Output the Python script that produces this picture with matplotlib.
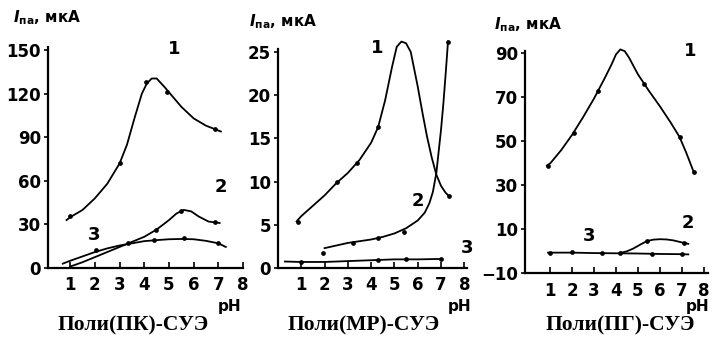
import matplotlib
matplotlib.use("Agg")
import matplotlib.pyplot as plt

plt.rcParams['font.family'] = ['DejaVu Sans']
plt.rcParams['mathtext.fontset'] = 'custom'
plt.rcParams['mathtext.it'] = 'DejaVu Sans:italic:bold'
plt.rcParams['mathtext.rm'] = 'DejaVu Sans:bold'

# ---- Поли(ПК)-СУЭ ----
pk1_x = [0.85, 1.0, 1.5, 2.0, 2.5, 3.0, 3.3, 3.6, 3.9, 4.1, 4.3, 4.5, 4.8, 5.0, 5.5, 6.0, 6.5, 7.1]
pk1_y = [33, 35, 40, 48, 58, 72, 85, 103, 120, 127, 130.5, 130.5, 125, 121, 111, 103, 98, 94]
pk1_mx = [1.0, 3.0, 4.05, 4.9, 6.85]
pk1_my = [36, 72, 128, 121, 96]

pk2_x = [1.0, 1.5, 2.0, 2.5, 3.0, 3.5, 4.0, 4.5, 5.0, 5.3, 5.6, 5.9, 6.2, 6.6, 7.05]
pk2_y = [1, 4, 7.5, 11, 14.5, 18, 21.5, 26.5, 33, 37.5, 40, 39, 35.5, 32, 31]
pk2_mx = [3.35, 4.47, 5.5, 6.85]
pk2_my = [17, 26, 39, 32]

pk3_x = [0.7, 1.0, 1.5, 2.0, 2.5, 3.0, 3.5, 4.0, 4.5, 5.0, 5.5, 6.0, 6.5, 7.0, 7.3]
pk3_y = [3, 5, 8, 11, 13.5, 15.5, 17, 18.5, 19.2, 19.8, 20, 19.8, 18.7, 17, 14.5]
pk3_mx = [2.05, 4.4, 5.6, 7.0]
pk3_my = [12.5, 19, 20.5, 17]

# ---- Поли(МР)-СУЭ ----
mr1_x = [0.8, 1.0, 1.5, 2.0, 2.5, 3.0, 3.5, 4.0, 4.3, 4.6, 4.9, 5.1, 5.3, 5.5, 5.7, 5.85, 6.0, 6.2, 6.4, 6.6, 6.8, 7.0, 7.2, 7.35]
mr1_y = [5.4, 6.0, 7.2, 8.4, 9.8, 11.0, 12.5, 14.5, 16.3, 19.4, 23.3, 25.6, 26.2, 26.0, 25.0, 23.0, 21.0, 18.0, 15.2, 12.8, 10.8, 9.5, 8.7, 8.3]
mr1_mx = [0.85, 2.55, 3.4, 4.3, 7.35]
mr1_my = [5.3, 10, 12.1, 16.3, 8.3]

mr2_x = [2.0, 2.5, 3.0, 3.5, 4.0, 4.5, 5.0, 5.5, 6.0, 6.3, 6.5, 6.65, 6.8, 6.9, 7.0, 7.1, 7.2, 7.3]
mr2_y = [2.3, 2.6, 2.9, 3.1, 3.3, 3.6, 4.0, 4.6, 5.5, 6.4, 7.5, 8.8, 11, 13.5, 16, 19, 22.5, 26.2]
mr2_mx = [1.95, 3.2, 4.3, 5.4, 7.3]
mr2_my = [1.7, 2.9, 3.5, 4.2, 26.2]

mr3_x = [0.3, 1, 2, 3, 4, 5, 6, 7.0]
mr3_y = [0.75, 0.7, 0.7, 0.8, 0.9, 1.0, 1.0, 1.05]
mr3_mx = [1.0, 4.3, 5.5, 7.0]
mr3_my = [0.7, 0.95, 1.0, 1.1]

# ---- Поли(ПГ)-СУЭ ----
pg1_x = [0.85, 1.0, 1.5, 2.0, 2.5, 3.0, 3.5, 3.8, 4.0, 4.2, 4.4, 4.6, 5.0, 5.5, 6.0, 6.5, 6.9, 7.2, 7.55]
pg1_y = [39, 40, 46, 53, 61, 69.5, 79, 85, 89.5, 91.8, 91, 88, 80.5, 73, 66, 58.5, 52, 45, 36]
pg1_mx = [0.9, 2.07, 3.2, 5.26, 6.9, 7.55]
pg1_my = [39, 54, 73, 76, 52, 36]

pg2_x = [4.2, 4.5, 4.8, 5.1, 5.4, 5.7, 6.0, 6.3, 6.6, 6.9, 7.1, 7.3]
pg2_y = [-0.7, 0.0, 1.3, 3.0, 4.6, 5.3, 5.5, 5.4, 5.0, 4.3, 3.8, 3.4]
pg2_mx = [5.42, 7.1]
pg2_my = [4.8, 3.7]

pg3_x = [0.9, 2, 3, 4, 5, 6, 7, 7.3]
pg3_y = [-0.6, -0.6, -0.8, -0.9, -1.0, -1.2, -1.3, -1.4]
pg3_mx = [1.0, 2.0, 3.36, 4.2, 5.64, 7.0]
pg3_my = [-0.6, -0.5, -0.8, -0.8, -1.1, -1.1]

panels = [
    dict(pos=[0.0674, 0.2254, 0.274, 0.638], xlim=(0.1, 8.0), ylim=(0, 152),
         yticks=[0, 30, 60, 90, 120, 150],
         curves=[(pk1_x, pk1_y, pk1_mx, pk1_my), (pk2_x, pk2_y, pk2_mx, pk2_my),
                 (pk3_x, pk3_y, pk3_mx, pk3_my)],
         labels=[(5.2, 151, '1'), (7.1, 56, '2'), (1.95, 23, '3')],
         title='Поли(ПК)-СУЭ', tx=133, lab_x=13, lab_y=18, ph_x=230),
    dict(pos=[0.3904, 0.2254, 0.265, 0.632], xlim=(0, 8.1), ylim=(0, 25.3),
         yticks=[0, 5, 10, 15, 20, 25],
         curves=[(mr1_x, mr1_y, mr1_mx, mr1_my), (mr2_x, mr2_y, mr2_mx, mr2_my),
                 (mr3_x, mr3_y, mr3_mx, mr3_my)],
         labels=[(4.25, 25.4, '1'), (6.0, 7.7, '2'), (8.1, 2.3, '3')],
         title='Поли(МР)-СУЭ', tx=364, lab_x=249, lab_y=22, ph_x=460),
    dict(pos=[0.7374, 0.2101, 0.257, 0.642], xlim=(-0.15, 8.2), ylim=(-10, 91),
         yticks=[-10, 10, 30, 50, 70, 90],
         curves=[(pg1_x, pg1_y, pg1_mx, pg1_my), (pg2_x, pg2_y, pg2_mx, pg2_my),
                 (pg3_x, pg3_y, pg3_mx, pg3_my)],
         labels=[(7.4, 91, '1'), (7.3, 13, '2'), (2.75, 7, '3')],
         title='Поли(ПГ)-СУЭ', tx=620, lab_x=494, lab_y=25, ph_x=698),
]

W, H = 712, 346
fig = plt.figure(figsize=(W / 100, H / 100), dpi=100)

for p in panels:
    ax = fig.add_axes(p['pos'])
    for cx, cy, mx, my in p['curves']:
        ax.plot(cx, cy, color='black', lw=1.3, clip_on=False)
        ax.plot(mx, my, 'o', color='black', ms=2.4, clip_on=False)
    for lx, ly, s in p['labels']:
        ax.text(lx, ly, s, fontsize=13, fontweight='bold', ha='center', va='center',
                clip_on=False)
    ax.set_xlim(*p['xlim'])
    ax.set_ylim(*p['ylim'])
    ax.set_xticks(range(1, 9))
    ax.set_yticks(p['yticks'])
    for side in ['top', 'right']:
        ax.spines[side].set_visible(False)
    for side in ['left', 'bottom']:
        ax.spines[side].set_linewidth(1.6)
    ax.tick_params(axis='x', direction='in', length=4, width=1.2, pad=6, labelsize=12)
    ax.tick_params(axis='y', direction='out', length=3, width=1.2, pad=2, labelsize=12)
    for t in ax.get_xticklabels() + ax.get_yticklabels():
        t.set_fontweight('bold')
    fig.text(p['lab_x'] / W, 1 - p['lab_y'] / H, r'$\mathit{I}_{\mathrm{па}}$, мкА',
             fontsize=11, fontweight='bold', ha='left', va='center')
    fig.text(p['ph_x'] / W, 1 - 306 / H, 'pH', fontsize=11, fontweight='bold',
             ha='center', va='center')
    fig.text(p['tx'] / W, 1 - 325 / H, p['title'], family='Liberation Serif',
             fontsize=15.5, fontweight='bold', ha='center', va='center')

fig.savefig('out.png', dpi=100)
